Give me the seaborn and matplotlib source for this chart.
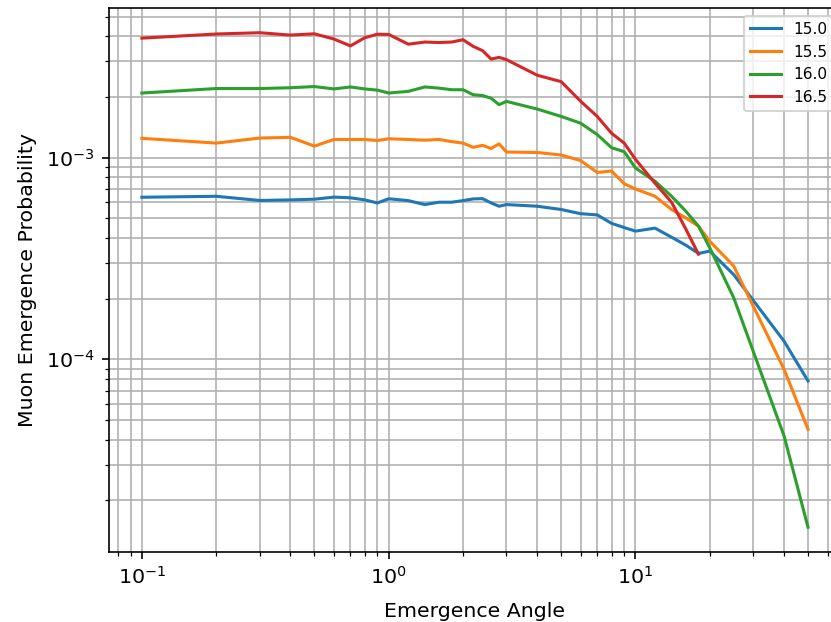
import numpy as np
import pandas as pd
import matplotlib
matplotlib.use("Agg")
import matplotlib.pyplot as plt
import seaborn as sns

# Emergence angles (same grid for every curve, 16.5 stops at 18)
angles = [0.1, 0.2, 0.3, 0.4, 0.5, 0.6, 0.7, 0.8, 0.9, 1.0,
          1.2, 1.4, 1.6, 1.8, 2.0, 2.2, 2.4, 2.6, 2.8, 3.0,
          4, 5, 6, 7, 8, 9, 10, 12, 14, 16, 18, 20, 25, 40, 50]

prob_150 = [6.36e-4, 6.43e-4, 6.13e-4, 6.17e-4, 6.22e-4, 6.37e-4, 6.32e-4, 6.17e-4, 5.96e-4, 6.25e-4,
            6.12e-4, 5.85e-4, 6.01e-4, 6.01e-4, 6.12e-4, 6.24e-4, 6.26e-4, 5.96e-4, 5.74e-4, 5.85e-4,
            5.74e-4, 5.53e-4, 5.27e-4, 5.20e-4, 4.72e-4, 4.50e-4, 4.32e-4, 4.47e-4, 4.03e-4, 3.68e-4,
            3.35e-4, 3.44e-4, 2.63e-4, 1.23e-4, 7.81e-5]

prob_155 = [1.246e-3, 1.18e-3, 1.25e-3, 1.26e-3, 1.14e-3, 1.23e-3, 1.23e-3, 1.23e-3, 1.215e-3, 1.24e-3,
            1.23e-3, 1.22e-3, 1.23e-3, 1.20e-3, 1.18e-3, 1.125e-3, 1.15e-3, 1.11e-3, 1.17e-3, 1.066e-3,
            1.06e-3, 1.03e-3, 9.66e-4, 8.44e-4, 8.58e-4, 7.42e-4, 6.99e-4, 6.43e-4, 5.53e-4, 5.02e-4,
            4.57e-4, 3.85e-4, 2.90e-4, 8.92e-5, 4.50e-5]

prob_160 = [2.09e-3, 2.20e-3, 2.20e-3, 2.22e-3, 2.25e-3, 2.19e-3, 2.24e-3, 2.19e-3, 2.16e-3, 2.09e-3,
            2.13e-3, 2.24e-3, 2.21e-3, 2.17e-3, 2.17e-3, 2.05e-3, 2.03e-3, 1.97e-3, 1.83e-3, 1.90e-3,
            1.74e-3, 1.60e-3, 1.48e-3, 1.30e-3, 1.12e-3, 1.07e-3, 8.88e-4, 7.63e-4, 6.43e-4, 5.42e-4,
            4.57e-4, 3.57e-4, 2.02e-4, 4.17e-5, 1.47e-5]

prob_165 = [3.91e-3, 4.10e-3, 4.16e-3, 4.05e-3, 4.11e-3, 3.87e-3, 3.58e-3, 3.93e-3, 4.09e-3, 4.08e-3,
            3.65e-3, 3.74e-3, 3.72e-3, 3.74e-3, 3.84e-3, 3.56e-3, 3.39e-3, 3.08e-3, 3.14e-3, 3.06e-3,
            2.56e-3, 2.38e-3, 1.90e-3, 1.60e-3, 1.32e-3, 1.18e-3, 9.8e-4, 7.46e-4, 6.01e-4, 4.42e-4,
            3.32e-4]

labels = ["15.0", "15.5", "16.0", "16.5"]
series = [prob_150, prob_155, prob_160, prob_165]
colors = ["tab:blue", "tab:orange", "tab:green", "tab:red"]

# long format for seaborn
frames = []
for lab, vals in zip(labels, series):
    frames.append(pd.DataFrame({
        "angle": angles[:len(vals)],
        "prob": vals,
        "energy": lab,
    }))
df = pd.concat(frames, ignore_index=True)

dpi = 147.5
fig = plt.figure(figsize=(831 / dpi, 622 / dpi), dpi=dpi)
ax = fig.add_axes([108.6 / 831, 70 / 622, 732.7 / 831, 544 / 622])

sns.lineplot(data=df, x="angle", y="prob", hue="energy", hue_order=labels,
             palette=colors, ax=ax, legend=False, linewidth=1.5)

ax.set_xscale("log")
ax.set_yscale("log")
ax.grid(True, which="both")
ax.set_xlabel("Emergence Angle", labelpad=6.5)
ax.set_ylabel("Muon Emergence Probability")
ax.legend(ax.lines[:4], labels, loc="upper right", fontsize=7.5)

fig.savefig("out.png", dpi=dpi)
